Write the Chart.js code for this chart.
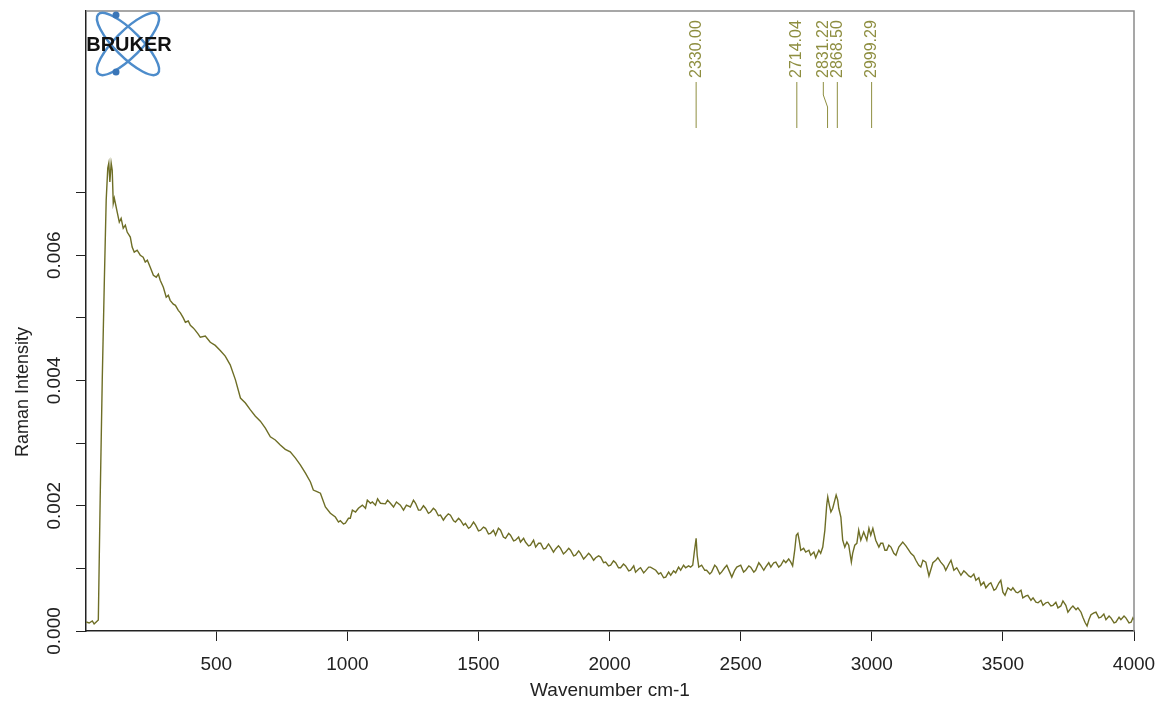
<!DOCTYPE html>
<html>
<head>
<meta charset="utf-8">
<script src="https://cdn.jsdelivr.net/npm/chart.js@4.4.1/dist/chart.umd.min.js"></script>
<style>
  html, body { margin: 0; padding: 0; background: #fff; }
  #wrap { width: 1157px; height: 706px; position: relative; }
</style>
</head>
<body>
<div id="wrap"><canvas id="spectrumChart"></canvas></div>
<script>
const wavenumbers = [
  4, 15, 27, 34, 42, 50, 57, 65, 73, 80, 86, 90, 94, 99, 103, 107, 111, 115, 122, 130,
  137, 145, 153, 160, 172, 179, 187, 198, 210, 221, 229, 237, 248, 260, 271, 279, 286, 298, 309, 317,
  324, 336, 344, 355, 363, 374, 382, 393, 401, 412, 420, 431, 439, 458, 477, 496, 515, 534, 553, 573,
  592, 611, 630, 649, 668, 687, 706, 725, 744, 763, 782, 802, 821, 840, 859, 870, 886, 897, 916, 935,
  954, 966, 973, 985, 992, 1004, 1011, 1019, 1031, 1042, 1057, 1069, 1076, 1088, 1095, 1107, 1115, 1126, 1145, 1153,
  1164, 1176, 1187, 1202, 1214, 1225, 1240, 1252, 1260, 1271, 1279, 1290, 1298, 1309, 1317, 1328, 1336, 1347, 1355, 1366,
  1374, 1385, 1393, 1405, 1412, 1424, 1431, 1443, 1450, 1462, 1469, 1481, 1489, 1500, 1508, 1519, 1527, 1538, 1546, 1557,
  1565, 1576, 1584, 1595, 1603, 1615, 1622, 1634, 1641, 1653, 1660, 1672, 1679, 1691, 1698, 1710, 1718, 1729, 1737, 1748,
  1756, 1767, 1775, 1786, 1794, 1805, 1813, 1824, 1832, 1844, 1851, 1863, 1870, 1882, 1889, 1901, 1908, 1920, 1927, 1939,
  1947, 1958, 1966, 1977, 1985, 1996, 2004, 2015, 2023, 2034, 2042, 2053, 2061, 2073, 2080, 2092, 2099, 2111, 2118, 2130,
  2137, 2149, 2156, 2176, 2187, 2195, 2206, 2214, 2225, 2233, 2244, 2252, 2263, 2271, 2282, 2290, 2301, 2309, 2317, 2323,
  2330, 2334, 2340, 2351, 2363, 2370, 2382, 2389, 2401, 2408, 2420, 2427, 2439, 2447, 2458, 2466, 2477, 2485, 2500, 2511,
  2519, 2531, 2538, 2550, 2557, 2569, 2576, 2588, 2595, 2607, 2615, 2626, 2634, 2645, 2653, 2664, 2672, 2683, 2691, 2698,
  2706, 2712, 2718, 2723, 2729, 2740, 2748, 2760, 2767, 2779, 2786, 2798, 2805, 2813, 2821, 2828, 2832, 2838, 2844, 2851,
  2859, 2864, 2870, 2874, 2882, 2889, 2897, 2905, 2912, 2922, 2927, 2935, 2943, 2950, 2958, 2969, 2981, 2989, 2996, 3004,
  3015, 3027, 3034, 3042, 3050, 3057, 3065, 3073, 3084, 3092, 3103, 3118, 3130, 3141, 3149, 3160, 3168, 3179, 3187, 3195,
  3206, 3218, 3233, 3244, 3252, 3263, 3275, 3282, 3294, 3302, 3313, 3324, 3340, 3351, 3359, 3370, 3378, 3389, 3397, 3408,
  3416, 3427, 3435, 3447, 3454, 3466, 3473, 3485, 3492, 3500, 3508, 3519, 3531, 3538, 3550, 3557, 3569, 3576, 3588, 3595,
  3607, 3615, 3626, 3634, 3645, 3653, 3664, 3672, 3683, 3691, 3702, 3710, 3721, 3729, 3740, 3748, 3760, 3767, 3779, 3786,
  3798, 3805, 3813, 3821, 3828, 3836, 3847, 3855, 3866, 3874, 3885, 3893, 3905, 3912, 3924, 3931, 3943, 3950, 3962, 3969,
  3981, 3989, 3996, 4000
];

const intensity = [
  0.000144, 0.000128, 0.00016, 0.000112, 0.000144, 0.000176, 0.00209, 0.00401, 0.0056, 0.00688, 0.00739, 0.00747, 0.00717, 0.00747, 0.00736, 0.00683, 0.00691, 0.00683, 0.00669, 0.00653,
  0.00659, 0.00643, 0.00648, 0.00637, 0.00629, 0.00613, 0.00605, 0.00608, 0.0060, 0.00597, 0.00589, 0.00592, 0.00581, 0.00568, 0.00565, 0.0057, 0.0056, 0.00549, 0.00533, 0.00536,
  0.00528, 0.00522, 0.0052, 0.00512, 0.00508, 0.005, 0.00493, 0.00495, 0.00488, 0.00484, 0.0048, 0.00474, 0.00469, 0.00471, 0.00461, 0.00456, 0.00448, 0.00439, 0.00425, 0.00401,
  0.00372, 0.00364, 0.00353, 0.00343, 0.00335, 0.00324, 0.0031, 0.00305, 0.00297, 0.0029, 0.00286, 0.00276, 0.00265, 0.00252, 0.00238, 0.00225, 0.00222, 0.0022, 0.00198, 0.00188,
  0.00182, 0.00174, 0.00176, 0.00171, 0.00172, 0.0018, 0.0018, 0.00193, 0.0019, 0.00196, 0.00201, 0.00196, 0.00209, 0.00204, 0.00206, 0.00201, 0.00211, 0.00204, 0.00203, 0.00209,
  0.00204, 0.00198, 0.00206, 0.00201, 0.00193, 0.00201, 0.00198, 0.00209, 0.00204, 0.00193, 0.00193, 0.002, 0.00196, 0.00188, 0.0019, 0.00196, 0.00193, 0.00184, 0.00185, 0.00177,
  0.00182, 0.00187, 0.00185, 0.00176, 0.00174, 0.0018, 0.00177, 0.00169, 0.00172, 0.00164, 0.00166, 0.00174, 0.00169, 0.0016, 0.00161, 0.00166, 0.00164, 0.00155, 0.00156, 0.00161,
  0.00153, 0.00164, 0.00161, 0.0015, 0.00148, 0.00156, 0.00153, 0.00144, 0.00145, 0.0015, 0.00142, 0.00148, 0.00142, 0.00136, 0.00137, 0.00145, 0.00134, 0.0014, 0.0014, 0.00131,
  0.00132, 0.00139, 0.00134, 0.00126, 0.00131, 0.00136, 0.00132, 0.00123, 0.00126, 0.00132, 0.00129, 0.0012, 0.00121, 0.00128, 0.00124, 0.00115, 0.00118, 0.00124, 0.00121, 0.00113,
  0.00117, 0.0012, 0.00118, 0.00109, 0.0011, 0.00104, 0.00105, 0.00112, 0.00109, 0.00101, 0.00101, 0.00107, 0.00104, 0.00096, 0.00097, 0.00104, 0.00094, 0.00099, 0.00101, 0.00093,
  0.00096, 0.00102, 0.00102, 0.00097, 0.00091, 0.00093, 0.00085, 0.00086, 0.00094, 0.00089, 0.00096, 0.00093, 0.00102, 0.00097, 0.00105, 0.00101, 0.00104, 0.00102, 0.00105, 0.00126,
  0.00148, 0.00121, 0.00102, 0.00105, 0.00097, 0.00097, 0.00091, 0.00094, 0.00105, 0.00102, 0.00091, 0.00094, 0.00101, 0.00105, 0.00094, 0.00086, 0.00097, 0.00102, 0.00105, 0.00094,
  0.00097, 0.00104, 0.00102, 0.00094, 0.00097, 0.00109, 0.00105, 0.00097, 0.00102, 0.00109, 0.00102, 0.00109, 0.0011, 0.00102, 0.00105, 0.00113, 0.00109, 0.00115, 0.0011, 0.00104,
  0.00129, 0.00153, 0.00156, 0.00145, 0.00129, 0.00132, 0.00126, 0.00129, 0.00121, 0.00126, 0.00117, 0.00129, 0.00124, 0.00134, 0.00161, 0.00201, 0.00214, 0.00201, 0.0019, 0.00196,
  0.00209, 0.00217, 0.00209, 0.00196, 0.00182, 0.00145, 0.00134, 0.00142, 0.00137, 0.0011, 0.00124, 0.00137, 0.0014, 0.00161, 0.00145, 0.00158, 0.00145, 0.00164, 0.00153, 0.00164,
  0.00145, 0.00134, 0.0014, 0.0014, 0.00129, 0.00129, 0.00137, 0.00134, 0.00124, 0.00121, 0.00134, 0.00142, 0.00136, 0.00129, 0.00124, 0.0012, 0.00113, 0.00105, 0.00102, 0.00113,
  0.0011, 0.00088, 0.00109, 0.00113, 0.00117, 0.0011, 0.00104, 0.00097, 0.00107, 0.00113, 0.00097, 0.00101, 0.00089, 0.00096, 0.00093, 0.00088, 0.00086, 0.00091, 0.00081, 0.00085,
  0.00073, 0.00078, 0.00069, 0.00075, 0.00077, 0.00065, 0.00067, 0.00077, 0.00081, 0.00062, 0.00057, 0.00069, 0.00065, 0.00069, 0.00062, 0.00061, 0.00065, 0.00053, 0.00056, 0.00057,
  0.00049, 0.00053, 0.00046, 0.00045, 0.00049, 0.00041, 0.00045, 0.00046, 0.0004, 0.00041, 0.00046, 0.00037, 0.0004, 0.00048, 0.00041, 0.0003, 0.00037, 0.0004, 0.00034, 0.00037,
  0.0003, 0.00022, 0.00014, 0.00008, 0.00018, 0.00026, 0.00029, 0.0003, 0.00021, 0.00022, 0.00027, 0.00018, 0.00024, 0.00021, 0.00013, 0.00014, 0.00022, 0.00018, 0.00024, 0.00021,
  0.00013, 0.00014, 0.00021, 0.00018
];

// picos marcados arriba del grafico
const peakPositions = [2330.00, 2714.04, 2831.22, 2868.50, 2999.29];
const peakLabels = ['2330.00', '2714.04', '2831.22', '2868.50', '2999.29'];

const xTickValues = [500, 1000, 1500, 2000, 2500, 3000, 3500, 4000];
const yTickValues = [0, 0.001, 0.002, 0.003, 0.004, 0.005, 0.006, 0.007];
const yLabeledTicks = ['0.000', '0.002', '0.004', '0.006'];

const colorEspectro = '#6e6e26';
const colorPicos = '#8e8e40';
const fuente = "'Liberation Sans', Arial, sans-serif";

// plugin para marco, etiquetas del eje Y, logo y picos
const decoraciones = {
  id: 'decoraciones',
  afterDraw(chart) {
    const ctx = chart.ctx;
    const area = chart.chartArea;
    const xs = chart.scales.x;
    const ys = chart.scales.y;

    ctx.save();

    // marco superior y derecho (gris)
    ctx.strokeStyle = '#8a8a8a';
    ctx.lineWidth = 1.5;
    ctx.beginPath();
    ctx.moveTo(area.left, area.top);
    ctx.lineTo(area.right, area.top);
    ctx.lineTo(area.right, area.bottom);
    ctx.stroke();

    // etiquetas eje Y rotadas
    ctx.fillStyle = '#222';
    ctx.font = '19px ' + fuente;
    ctx.textAlign = 'center';
    ctx.textBaseline = 'middle';
    ys.ticks.forEach(t => {
      const txt = t.value.toFixed(3);
      if (!yLabeledTicks.includes(txt)) return;
      const py = ys.getPixelForValue(t.value);
      ctx.save();
      ctx.translate(55, py);
      ctx.rotate(-Math.PI / 2);
      ctx.fillText(txt, 0, 0);
      ctx.restore();
    });

    // titulo eje Y
    ctx.save();
    ctx.translate(23, 392);
    ctx.rotate(-Math.PI / 2);
    ctx.font = '18px ' + fuente;
    ctx.fillText('Raman Intensity', 0, 0);
    ctx.restore();

    // logo BRUKER
    const cx = 128, cy = 44;
    ctx.strokeStyle = '#4d8ccb';
    ctx.lineWidth = 2.5;
    [Math.PI / 4, -Math.PI / 4].forEach(a => {
      ctx.beginPath();
      ctx.ellipse(cx, cy, 42, 13, a, 0, Math.PI * 2);
      ctx.stroke();
    });
    ctx.fillStyle = '#3a76b8';
    [[116, 15], [116, 72]].forEach(p => {
      ctx.beginPath();
      ctx.arc(p[0], p[1], 3.5, 0, Math.PI * 2);
      ctx.fill();
    });
    ctx.fillStyle = '#111';
    ctx.font = 'bold 20px ' + fuente;
    ctx.textAlign = 'center';
    ctx.textBaseline = 'middle';
    ctx.fillText('BRUKER', 129, 45);

    // picos: lineas y textos
    const reales = peakPositions.map(p => xs.getPixelForValue(p));
    const etiq = reales.slice();
    for (let i = etiq.length - 1; i > 0; i--) {
      if (etiq[i] - etiq[i - 1] < 14) etiq[i - 1] = etiq[i] - 14;
    }
    ctx.strokeStyle = colorPicos;
    ctx.lineWidth = 1;
    ctx.fillStyle = colorPicos;
    ctx.font = '16px ' + fuente;
    ctx.textAlign = 'left';
    ctx.textBaseline = 'middle';
    reales.forEach((rx, i) => {
      const lx = etiq[i];
      ctx.beginPath();
      ctx.moveTo(lx, 82);
      ctx.lineTo(lx, 95);
      ctx.lineTo(rx, 107);
      ctx.lineTo(rx, 128);
      ctx.stroke();
      ctx.save();
      ctx.translate(lx, 78);
      ctx.rotate(-Math.PI / 2);
      ctx.fillText(peakLabels[i], 0, 0);
      ctx.restore();
    });

    ctx.restore();
  }
};

function initEspectro() {
  const ctx = document.getElementById('spectrumChart');
  const puntos = wavenumbers.map((w, i) => ({ x: w, y: intensity[i] }));

  new Chart(ctx, {
    type: 'line',
    data: {
      datasets: [{
        data: puntos,
        borderColor: colorEspectro,
        borderWidth: 1.4,
        pointRadius: 0,
        tension: 0,
        fill: false
      }]
    },
    options: {
      responsive: true,
      maintainAspectRatio: false,
      animation: false,
      events: [],
      layout: { padding: { top: 11, right: 23, left: 0, bottom: 0 } },
      plugins: {
        legend: { display: false },
        tooltip: { enabled: false }
      },
      scales: {
        x: {
          type: 'linear',
          min: 3,
          max: 4000,
          afterBuildTicks: scale => {
            scale.ticks = xTickValues.map(v => ({ value: v }));
          },
          afterFit: scale => {
            // el "4000" puede salirse del area, no reservar espacio extra
            scale.height = 75;
            scale.paddingLeft = 0;
            scale.paddingRight = 0;
          },
          grid: {
            drawOnChartArea: false,
            drawTicks: true,
            tickLength: 10,
            tickColor: '#222'
          },
          border: { color: '#222', width: 1.5 },
          ticks: {
            color: '#222',
            font: { family: fuente, size: 19 },
            padding: 12,
            maxRotation: 0,
            callback: v => String(v)
          },
          title: {
            display: true,
            text: 'Wavenumber cm-1',
            color: '#222',
            font: { family: fuente, size: 19 },
            padding: { top: 0, bottom: 4 }
          }
        },
        y: {
          type: 'linear',
          min: 0,
          max: 0.0099,
          afterBuildTicks: scale => {
            scale.ticks = yTickValues.map(v => ({ value: v }));
          },
          afterFit: scale => { scale.width = 86; },
          grid: {
            drawOnChartArea: false,
            drawTicks: true,
            tickLength: 10,
            tickColor: '#222'
          },
          border: { color: '#222', width: 1.5 },
          ticks: { display: false }
        }
      }
    },
    plugins: [decoraciones]
  });
}

initEspectro();
</script>
</body>
</html>
